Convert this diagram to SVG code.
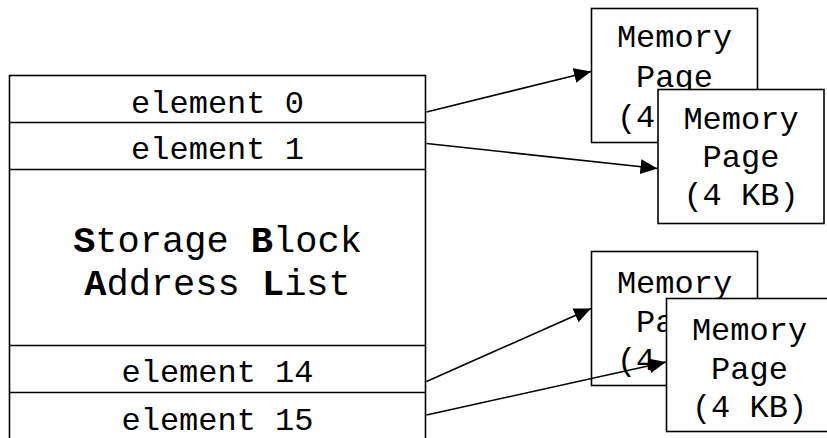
<svg xmlns="http://www.w3.org/2000/svg" width="827" height="438" viewBox="0 0 827 438">
  <style>
    .box { fill: #fff; stroke: #000; stroke-width: 1.6; }
    .txt { font-family: "Liberation Mono", "Courier New", monospace; font-size: 32px; fill: #000; text-anchor: middle; }
    .big { font-size: 37px; }
    .b { font-weight: bold; }
    .wire { fill: none; stroke: #000; stroke-width: 1.6; }
  </style>
  <defs>
    <marker id="arrow" markerUnits="userSpaceOnUse" markerWidth="18" markerHeight="16" refX="17" refY="7.5" orient="auto">
      <path d="M0,0 L17,7.5 L0,15 Z" fill="#000"/>
    </marker>
  </defs>

  <!-- address list table -->
  <g id="list">
    <rect class="box" x="9.5" y="75.5" width="416" height="380"/>
    <line class="wire" x1="9.5" y1="122.5" x2="425.5" y2="122.5"/>
    <line class="wire" x1="9.5" y1="169.5" x2="425.5" y2="169.5"/>
    <line class="wire" x1="9.5" y1="345.5" x2="425.5" y2="345.5"/>
    <line class="wire" x1="9.5" y1="392.5" x2="425.5" y2="392.5"/>
  </g>
  <g id="el0"><text class="txt" x="217.5" y="112.5">element 0</text></g>
  <g id="el1"><text class="txt" x="217.5" y="159">element 1</text></g>
  <g id="title">
    <text class="txt big" x="217.5" y="252"><tspan class="b">S</tspan>torage <tspan class="b">B</tspan>lock</text>
    <text class="txt big" x="217.5" y="295"><tspan class="b">A</tspan>ddress <tspan class="b">L</tspan>ist</text>
  </g>
  <g id="el14"><text class="txt" x="217.5" y="382">element 14</text></g>
  <g id="el15"><text class="txt" x="217.5" y="430">element 15</text></g>

  <!-- memory pages -->
  <g id="pageA">
    <rect class="box" x="591.5" y="8.5" width="166" height="134"/>
    <text class="txt" x="674.5" y="47">Memory</text>
    <text class="txt" x="674.5" y="87">Page</text>
    <text class="txt" x="674.5" y="127">(4 KB)</text>
  </g>
  <g id="pageB">
    <rect class="box" x="658" y="89.5" width="166" height="134"/>
    <text class="txt" x="741" y="129">Memory</text>
    <text class="txt" x="741" y="167">Page</text>
    <text class="txt" x="741" y="205">(4 KB)</text>
  </g>
  <g id="pageC">
    <rect class="box" x="591.5" y="251.5" width="166" height="134"/>
    <text class="txt" x="674.5" y="293">Memory</text>
    <text class="txt" x="674.5" y="332">Page</text>
    <text class="txt" x="674.5" y="370">(4 KB)</text>
  </g>
  <g id="pageD">
    <rect class="box" x="666.5" y="298.5" width="170" height="133"/>
    <text class="txt" x="749.5" y="340">Memory</text>
    <text class="txt" x="749.5" y="379">Page</text>
    <text class="txt" x="749.5" y="417">(4 KB)</text>
  </g>

  <!-- connectors -->
  <g id="connectors">
    <line class="wire" x1="426.5" y1="112" x2="591" y2="71.5" marker-end="url(#arrow)"/>
    <line class="wire" x1="426.5" y1="143.5" x2="657.5" y2="168.5" marker-end="url(#arrow)"/>
    <line class="wire" x1="426.5" y1="381.5" x2="591" y2="308.5" marker-end="url(#arrow)"/>
    <line class="wire" x1="426.5" y1="415" x2="666" y2="362" marker-end="url(#arrow)"/>
  </g>
</svg>
